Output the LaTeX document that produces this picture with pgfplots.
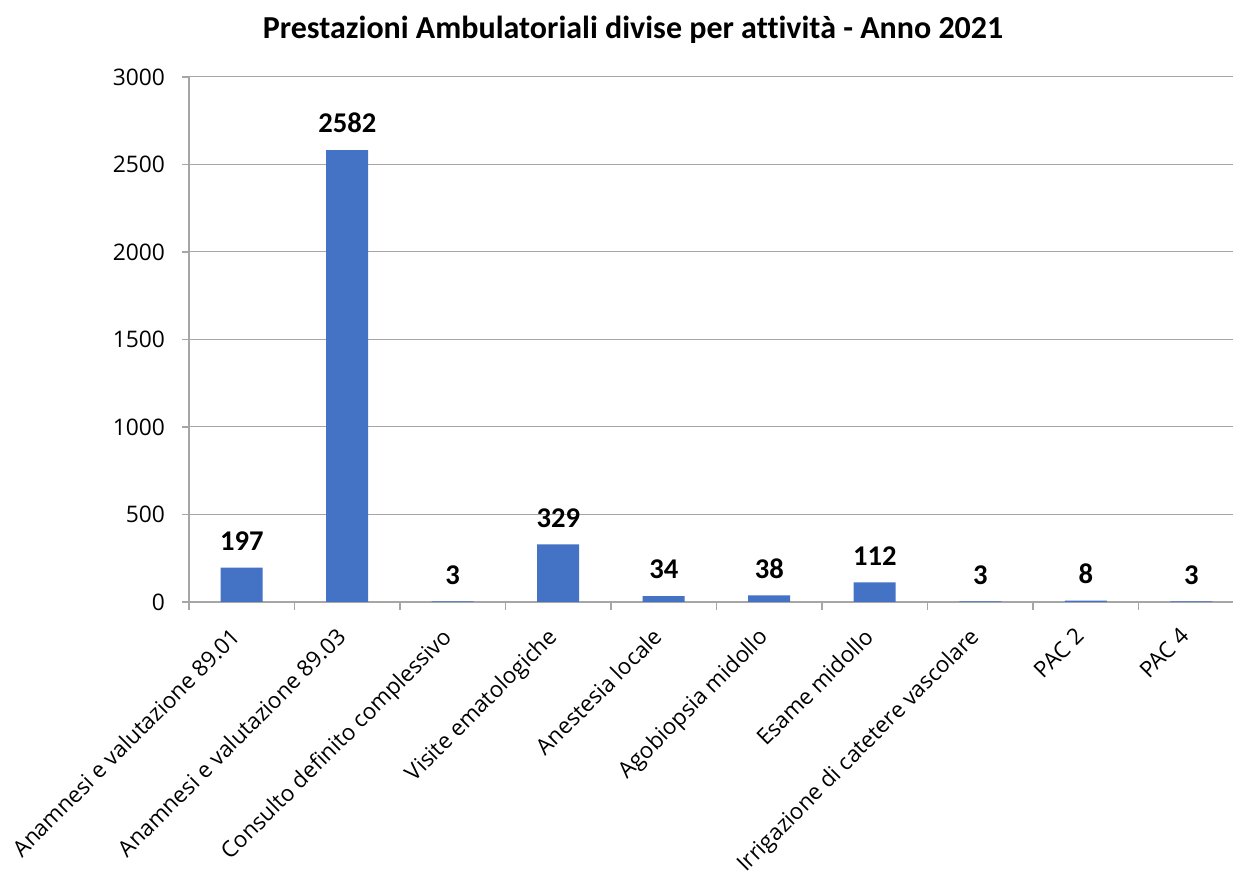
\documentclass[border=0pt]{standalone}
\usepackage{fontspec}
\setmainfont{Carlito}[Ligatures=NoCommon]
\newfontfamily\axfont{Open Sans}
\usepackage{pgfplots}
\pgfplotsset{compat=1.18}
\definecolor{barblue}{HTML}{4472C4}
\definecolor{gridgray}{HTML}{A6A6A6}
\begin{document}
\begin{tikzpicture}
\begin{axis}[
  scale only axis, width=527.5pt, height=262.5pt,
  at={(0,0)}, anchor=south west,
  xmin=0.5, xmax=10.5, ymin=0, ymax=3000,
  ytick={0,500,...,3000},
  xtick={1,...,10},
  xticklabels={Anamnesi e valutazione 89.01,Anamnesi e valutazione 89.03,Consulto definito complessivo,Visite ematologiche,Anestesia locale,Agobiopsia midollo,Esame midollo,Irrigazione di catetere vascolare,PAC 2,PAC 4},
  minor xtick={0.5,1.5,...,10.5},
  /pgf/number format/assume math mode=true,
  /pgf/number format/1000 sep={},
  x tick label style={xshift=-6pt, yshift=-7pt, rotate=45, anchor=north east, font=\axfont\fontsize{11.2}{13}\selectfont, inner sep=1pt},
  y tick label style={xshift=-5pt, font=\axfont\fontsize{11.4}{13}\selectfont},
  ymajorgrids, grid style={gridgray, line width=0.5pt},
  axis x line*=bottom, axis y line*=left,
  axis line style={gridgray, line width=0.6pt, -},
  tick style={gridgray, line width=0.6pt},
  major x tick style={draw=none},
  minor tick length=4pt, major tick length=3.5pt,
  tick align=outside,
  ybar, bar width=21pt,
  nodes near coords,
  every node near coord/.append style={font=\fontsize{14.3}{16}\selectfont\bfseries, text=black, yshift=5pt},
]
\addplot[fill=barblue, draw=none] coordinates {(1,197) (2,2582) (3,3) (4,329) (5,34) (6,38) (7,112) (8,3) (9,8) (10,3)};
\end{axis}
\node[font=\fontsize{16}{18}\selectfont\bfseries] at (222pt,286pt) {Prestazioni Ambulatoriali divise per attività - Anno 2021};
\pgfresetboundingbox
\path[use as bounding box] (-94.5pt,-140.5pt) rectangle (522pt,301pt);
\end{tikzpicture}
\end{document}
